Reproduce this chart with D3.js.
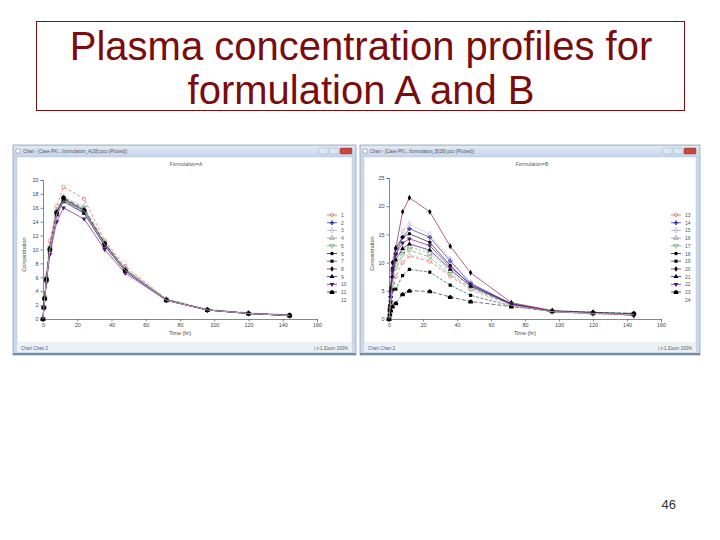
<!DOCTYPE html>
<html>
<head>
<meta charset="utf-8">
<title>Plasma concentration profiles</title>
<style>
  body { margin: 0; background: #fff; }
  svg { display: block; font-family: "Liberation Sans", Arial, sans-serif; }
  .tick text { font-size: 5.5px; fill: #444; }
  .tick line, .domain { stroke: #555; stroke-width: 0.7; }
</style>
</head>
<body>
<div id="slide"></div>
<script src="https://d3js.org/d3.v7.min.js"></script>
<script>
// sampling times (hr)
var times = [0, 0.5, 1, 2, 4, 8, 12, 24, 36, 48, 72, 96, 120, 144];

var subjectsA = ["1","2","3","4","5","6","7","8","9","10","11","12"];
var subjectsB = ["13","14","15","16","17","18","19","20","21","22","23","24"];

// concentration, formulation A
var concA = [
  [0, 1.8, 3.3, 6.2, 11.2, 16.2, 19.0, 17.3, 11.3, 7.6, 2.9, 1.4, 0.9, 0.6],
  [0, 1.7, 3.0, 5.6, 10.0, 15.2, 17.0, 15.5, 10.8, 7.1, 2.8, 1.3, 0.8, 0.5],
  [0, 1.7, 3.1, 5.8, 10.4, 15.6, 17.6, 16.2, 11.0, 7.3, 2.8, 1.3, 0.8, 0.5],
  [0, 1.7, 3.0, 5.7, 10.2, 15.4, 17.2, 15.8, 10.9, 7.2, 2.8, 1.3, 0.8, 0.5],
  [0, 1.6, 3.0, 5.7, 10.3, 15.5, 17.4, 16.0, 11.0, 7.2, 2.8, 1.3, 0.8, 0.5],
  [0, 1.7, 3.1, 5.9, 10.2, 15.3, 17.3, 15.6, 10.8, 7.0, 2.7, 1.3, 0.8, 0.5],
  [0, 1.6, 2.9, 5.5, 10.0, 15.0, 17.0, 15.4, 10.6, 6.9, 2.7, 1.3, 0.8, 0.6],
  [0, 1.7, 3.0, 5.7, 10.1, 15.2, 17.1, 15.5, 10.7, 7.0, 2.7, 1.3, 0.8, 0.5],
  [0, 1.6, 2.9, 5.5, 9.8, 15.0, 16.9, 15.2, 10.5, 6.9, 2.7, 1.3, 0.8, 0.5],
  [0, 1.5, 2.8, 5.3, 9.3, 14.0, 16.0, 14.4, 10.0, 6.6, 2.7, 1.3, 0.8, 0.5],
  [0, 1.7, 3.0, 5.8, 10.1, 15.4, 17.5, 15.7, 10.9, 7.0, 2.7, 1.3, 0.8, 0.5],
  [0, 1.6, 3.0, 5.6, 10.0, 15.1, 17.0, 15.5, 10.7, 7.0, 2.7, 1.3, 0.8, 0.5]
];

// concentration, formulation B
var concB = [
  [0, 1.2, 2.5, 5.0, 7.5, 10.0, 11.2, 10.2, 7.6, 5.2, 2.4, 1.3, 0.9, 0.8],
  [0, 1.8, 4.0, 7.5, 11.5, 14.5, 16.0, 14.5, 10.3, 6.3, 2.6, 1.3, 1.0, 0.9],
  [0, 2.0, 4.5, 8.0, 12.0, 15.5, 16.8, 15.0, 10.6, 6.5, 2.7, 1.4, 0.9, 0.7],
  [0, 1.5, 3.3, 6.5, 9.8, 12.0, 12.8, 11.7, 8.5, 5.8, 2.5, 1.3, 1.0, 0.8],
  [0, 1.4, 3.0, 6.0, 9.0, 11.5, 12.2, 11.0, 8.0, 5.5, 2.5, 1.3, 1.0, 0.9],
  [0, 2.2, 5.0, 9.0, 12.5, 14.5, 15.1, 13.6, 9.5, 6.0, 2.7, 1.4, 1.1, 0.9],
  [0, 1.5, 3.0, 5.2, 5.3, 7.7, 8.8, 8.3, 6.0, 4.2, 2.3, 1.3, 1.1, 1.0],
  [0, 2.5, 5.5, 10.0, 12.6, 19.0, 21.5, 19.0, 12.9, 8.2, 2.9, 1.5, 1.2, 0.6],
  [0, 1.8, 4.0, 7.5, 10.5, 12.5, 13.3, 12.2, 8.8, 5.8, 2.6, 1.3, 1.1, 0.9],
  [0, 2.0, 4.5, 8.5, 11.5, 13.5, 14.2, 13.0, 9.2, 6.2, 2.7, 1.4, 1.0, 0.8],
  [0, 0.8, 1.5, 2.2, 2.8, 4.4, 5.0, 4.9, 3.9, 3.1, 2.2, 1.4, 1.2, 1.0],
  [0, 1.5, 3.0, 6.0, 9.0, 11.0, 11.5, 10.5, 7.8, 5.3, 2.4, 1.3, 1.0, 0.8]
];

var xTicks = [0, 20, 40, 60, 80, 100, 120, 140, 160];
var yTicksA = [0, 2, 4, 6, 8, 10, 12, 14, 16, 18, 20];
var yTicksB = [0, 5, 10, 15, 20, 25];

// per legend position: line colour, dash, marker, marker fill
var house = "M0,-2.3L2.3,-0.4L2.3,2L-2.3,2L-2.3,-0.4Z";
var styles = [
  { c: "#e06060", dash: "3,2",   sym: d3.symbolCircle,   fill: "none" },
  { c: "#3a3ab0", dash: null,    sym: d3.symbolCross,    fill: "#3a3ab0" },
  { c: "#b8a0e0", dash: "2,1.5", sym: d3.symbolDiamond,  fill: "none" },
  { c: "#8a8a8a", dash: "2,2",   sym: d3.symbolTriangle, fill: "none" },
  { c: "#5fa85f", dash: "4,2",   sym: "down",            fill: "none" },
  { c: "#222222", dash: null,    sym: d3.symbolCircle,   fill: "#000" },
  { c: "#1f5f5f", dash: "3,1.5", sym: d3.symbolSquare,   fill: "#000" },
  { c: "#8a2050", dash: null,    sym: d3.symbolDiamond,  fill: "#000" },
  { c: "#1a237e", dash: null,    sym: d3.symbolTriangle, fill: "#000" },
  { c: "#7a1a8a", dash: null,    sym: "down",            fill: "#4a1a6a" },
  { c: "#333333", dash: "4,2",   sym: "house",           fill: "#000" },
  { c: "#dddddd", dash: null,    sym: null,              fill: "none" }
];

var W = 720, H = 540;
var svg = d3.select("#slide").append("svg").attr("width", W).attr("height", H);

// title box
svg.append("rect").attr("x", 36.5).attr("y", 21.5).attr("width", 648).attr("height", 89)
  .attr("fill", "none").attr("stroke", "#7a1010").attr("stroke-width", 1);
svg.append("text").attr("x", 361).attr("y", 60).attr("text-anchor", "middle")
  .attr("font-size", 40).attr("fill", "#7a0c0c").text("Plasma concentration profiles for");
svg.append("text").attr("x", 361).attr("y", 104).attr("text-anchor", "middle")
  .attr("font-size", 40).attr("fill", "#7a0c0c").text("formulation A and B");

svg.append("text").attr("x", 676).attr("y", 509).attr("text-anchor", "end")
  .attr("font-size", 13).attr("fill", "#333").text("46");

function markerPath(sym) {
  if (sym === "house") return house;
  if (sym === "down") return d3.symbol(d3.symbolTriangle, 10)();
  return d3.symbol(sym, sym === d3.symbolCross ? 12 : 10)();
}

function drawWindow(x0, y0, w, h, caption, chartTitle, yTicks, yMax, subjects, conc, plot) {
  var g = svg.append("g");
  var grad = svg.append("defs").append("linearGradient")
    .attr("id", "tb" + x0).attr("x1", 0).attr("y1", 0).attr("x2", 0).attr("y2", 1);
  grad.append("stop").attr("offset", 0).attr("stop-color", "#e2eaf5");
  grad.append("stop").attr("offset", 1).attr("stop-color", "#c3d3e8");

  // frame
  g.append("rect").attr("x", x0).attr("y", y0).attr("width", w).attr("height", h)
    .attr("fill", "#cad8ea").attr("stroke", "#8fa6c2").attr("stroke-width", 0.8);
  g.append("rect").attr("x", x0 + 1).attr("y", y0 + 1).attr("width", w - 2).attr("height", 11)
    .attr("fill", "url(#tb" + x0 + ")");
  g.append("rect").attr("x", x0 + 3).attr("y", y0 + 4).attr("width", 4).attr("height", 4)
    .attr("fill", "#fff").attr("stroke", "#667").attr("stroke-width", 0.4);
  g.append("text").attr("x", x0 + 10).attr("y", y0 + 8).attr("font-size", 4.5).attr("fill", "#555")
    .text(caption);
  // window buttons
  [0, 1].forEach(function (i) {
    g.append("rect").attr("x", x0 + w - 37 + i * 10).attr("y", y0 + 3).attr("width", 9).attr("height", 6)
      .attr("rx", 1).attr("fill", "#dde6f2").attr("stroke", "#8fa6c2").attr("stroke-width", 0.4);
  });
  g.append("rect").attr("x", x0 + w - 16).attr("y", y0 + 3).attr("width", 12).attr("height", 6)
    .attr("rx", 1).attr("fill", "#c9463d").attr("stroke", "#8a2a24").attr("stroke-width", 0.4);

  // client area
  g.append("rect").attr("x", x0 + 4).attr("y", y0 + 12).attr("width", w - 8).attr("height", h - 24)
    .attr("fill", "#fff").attr("stroke", "#b7c6d8").attr("stroke-width", 0.5);
  // status bar
  g.append("rect").attr("x", x0 + 4).attr("y", y0 + h - 12).attr("width", w - 8).attr("height", 9)
    .attr("fill", "#edf1f6");
  g.append("line").attr("x1", x0).attr("x2", x0 + w).attr("y1", y0 + h - 1).attr("y2", y0 + h - 1)
    .attr("stroke", "#5b7394").attr("stroke-width", 1.5);
  g.append("text").attr("x", x0 + 8).attr("y", y0 + h - 5).attr("font-size", 4.5).attr("fill", "#3a5ea8")
    .text("Chart  Chart 2");
  g.append("text").attr("x", x0 + w - 8).attr("y", y0 + h - 5).attr("font-size", 4.5).attr("fill", "#555")
    .attr("text-anchor", "end").text("|   x:1     Zoom 100%");

  var x = d3.scaleLinear().domain([0, 160]).range(plot.x);
  var y = d3.scaleLinear().domain([0, yMax]).range(plot.y);

  g.append("g").attr("transform", "translate(0," + plot.y[0] + ")")
    .call(d3.axisBottom(x).tickValues(xTicks).tickSize(2.5).tickPadding(2).tickFormat(d3.format("d")));
  g.append("g").attr("transform", "translate(" + plot.x[0] + ",0)")
    .call(d3.axisLeft(y).tickValues(yTicks).tickSize(2.5).tickPadding(2).tickFormat(d3.format("d")));

  g.append("text").attr("x", (plot.x[0] + plot.x[1]) / 2).attr("y", plot.y[0] + 16)
    .attr("text-anchor", "middle").attr("font-size", 5.5).attr("fill", "#444").text("Time (hr)");
  g.append("text").attr("transform", "translate(" + plot.ylab + "," + ((plot.y[0] + plot.y[1]) / 2 + 5) + ") rotate(-90)")
    .attr("text-anchor", "middle").attr("font-size", 5.5).attr("fill", "#444").text("Concentration");
  g.append("text").attr("x", plot.title).attr("y", y0 + 21).attr("text-anchor", "middle")
    .attr("font-size", 5).attr("fill", "#555").text(chartTitle);

  var line = d3.line().x(function (d) { return x(d[0]); }).y(function (d) { return y(d[1]); });

  conc.forEach(function (vals, i) {
    var st = styles[i];
    var pts = times.map(function (t, k) { return [t, vals[k]]; });
    g.append("path").datum(pts).attr("d", line).attr("fill", "none")
      .attr("stroke", st.c).attr("stroke-width", 0.7).attr("stroke-dasharray", st.dash);
    if (st.sym) {
      g.selectAll(null).data(pts).enter().append("path")
        .attr("d", markerPath(st.sym))
        .attr("transform", function (d) {
          return "translate(" + x(d[0]) + "," + y(d[1]) + ")" + (st.sym === "down" ? " rotate(180)" : "");
        })
        .attr("fill", st.fill)
        .attr("stroke", st.fill === "none" ? st.c : "none")
        .attr("stroke-width", 0.6);
    }
  });

  // legend
  var leg = g.append("g").attr("transform", "translate(" + plot.legX + "," + plot.legY + ")");
  subjects.forEach(function (name, i) {
    var st = styles[i];
    var row = leg.append("g").attr("transform", "translate(0," + i * 7.7 + ")");
    if (st.sym) {
      row.append("line").attr("x1", -5).attr("x2", 5).attr("stroke", st.c).attr("stroke-width", 0.8);
      row.append("path").attr("d", markerPath(st.sym))
        .attr("transform", st.sym === "down" ? "rotate(180)" : null)
        .attr("fill", st.fill)
        .attr("stroke", st.fill === "none" ? st.c : "none")
        .attr("stroke-width", 0.6);
    }
    row.append("text").attr("x", 9).attr("y", 2).attr("font-size", 5).attr("fill", "#555").text(name);
  });
}

drawWindow(13, 145, 343, 210, "Chart - [Case PK\\...\\formulation_A(28).pco (Plotted)]", "Formulation=A",
  yTicksA, 20, subjectsA, concA,
  { x: [43, 317], y: [319, 180], ylab: 26, title: 186, legX: 332, legY: 215 });

drawWindow(360, 145, 340, 210, "Chart - [Case PK\\...\\formulation_B(28).pco (Plotted)]", "Formulation=B",
  yTicksB, 25, subjectsB, concB,
  { x: [389, 661], y: [319, 178], ylab: 374, title: 532, legX: 676, legY: 215 });
</script>
</body>
</html>
